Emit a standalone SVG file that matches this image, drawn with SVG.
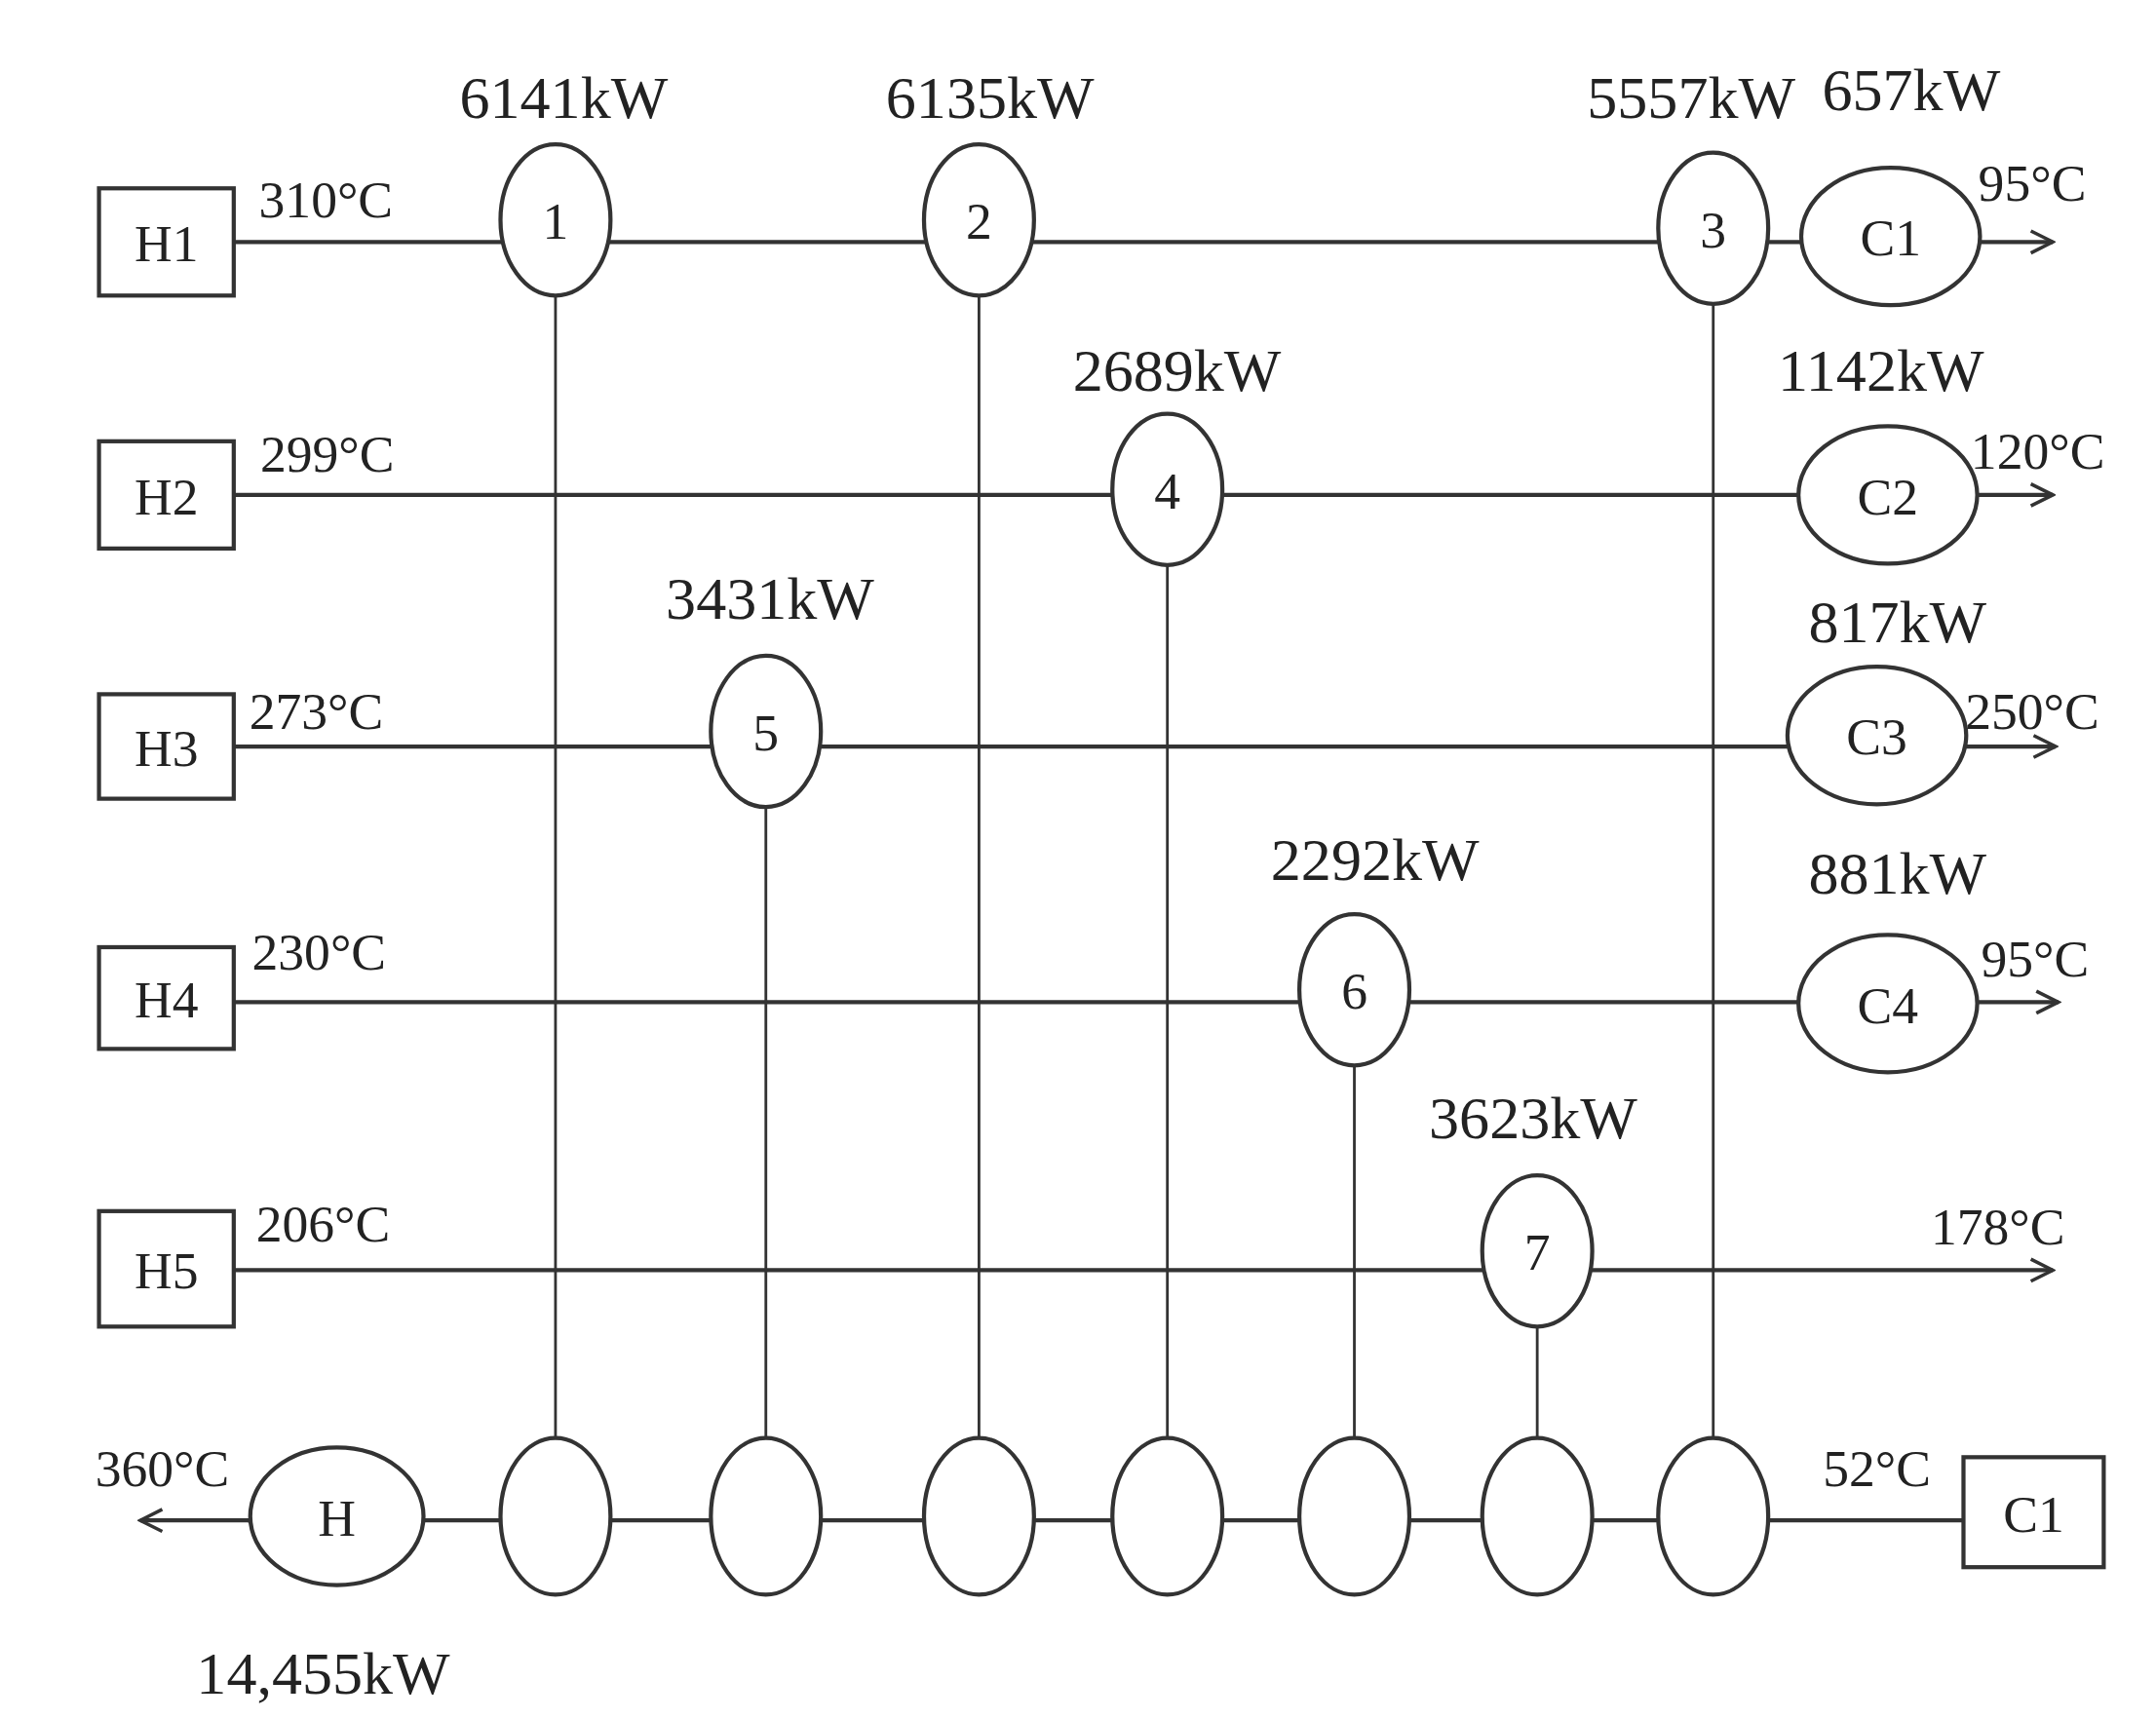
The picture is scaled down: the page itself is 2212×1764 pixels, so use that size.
<svg xmlns="http://www.w3.org/2000/svg" width="2212" height="1764" viewBox="0 0 2212 1764">
<defs>
<marker id="ar" viewBox="0 0 20 20" refX="18" refY="10" markerWidth="20" markerHeight="20" markerUnits="userSpaceOnUse" orient="auto"><path d="M2,2 L18,10 L2,18" fill="none" stroke="#333" stroke-width="2.5"/></marker>
</defs>
<style>
.s{stroke:#333;fill:none;stroke-width:3}
.v{stroke:#333;fill:none;stroke-width:2}
.n{stroke:#333;fill:#fff;stroke-width:3}
text{font-family:"Liberation Serif",serif;fill:#222;text-anchor:middle}
.k{font-size:44px}
.t{font-size:38px}
.l{font-size:38px}
</style>
<rect width="2212" height="1764" fill="#fff"/>
<g transform="scale(1.4107)">
<g id="connectors">
<line class="s" x1="170" y1="176" x2="1310" y2="176"/>
<line class="s" x1="1440" y1="176" x2="1493" y2="176" marker-end="url(#ar)"/>
<line class="s" x1="170" y1="360" x2="1308" y2="360"/>
<line class="s" x1="1438" y1="360" x2="1493" y2="360" marker-end="url(#ar)"/>
<line class="s" x1="170" y1="543" x2="1300" y2="543"/>
<line class="s" x1="1430" y1="543" x2="1495" y2="543" marker-end="url(#ar)"/>
<line class="s" x1="170" y1="729" x2="1308" y2="729"/>
<line class="s" x1="1438" y1="729" x2="1497" y2="729" marker-end="url(#ar)"/>
<line class="s" x1="170" y1="924" x2="1493" y2="924" marker-end="url(#ar)"/>
<line class="s" x1="1428" y1="1106" x2="180" y2="1106"/>
<line class="s" x1="182" y1="1106" x2="102" y2="1106" marker-end="url(#ar)"/>
<line class="v" x1="404" y1="176" x2="404" y2="1106"/>
<line class="v" x1="712" y1="176" x2="712" y2="1106"/>
<line class="v" x1="1246" y1="176" x2="1246" y2="1106"/>
<line class="v" x1="849" y1="360" x2="849" y2="1106"/>
<line class="v" x1="557" y1="543" x2="557" y2="1106"/>
<line class="v" x1="985" y1="729" x2="985" y2="1106"/>
<line class="v" x1="1118" y1="924" x2="1118" y2="1106"/>
</g>
<g id="H1"><rect class="n" x="72" y="137" width="98" height="78"/><text class="l" x="121" y="190">H1</text></g>
<g id="H2"><rect class="n" x="72" y="321" width="98" height="78"/><text class="l" x="121" y="374">H2</text></g>
<g id="H3"><rect class="n" x="72" y="505" width="98" height="76"/><text class="l" x="121" y="557">H3</text></g>
<g id="H4"><rect class="n" x="72" y="689" width="98" height="74"/><text class="l" x="121" y="740">H4</text></g>
<g id="H5"><rect class="n" x="72" y="881" width="98" height="84"/><text class="l" x="121" y="937">H5</text></g>
<g id="C1box"><rect class="n" x="1428" y="1060" width="102" height="80"/><text class="l" x="1479" y="1114">C1</text></g>
<g id="E1"><ellipse class="n" cx="404" cy="160" rx="40" ry="55"/><text class="l" x="404" y="174">1</text></g>
<g id="E2"><ellipse class="n" cx="712" cy="160" rx="40" ry="55"/><text class="l" x="712" y="174">2</text></g>
<g id="E3"><ellipse class="n" cx="1246" cy="166" rx="40" ry="55"/><text class="l" x="1246" y="180">3</text></g>
<g id="E4"><ellipse class="n" cx="849" cy="356" rx="40" ry="55"/><text class="l" x="849" y="370">4</text></g>
<g id="E5"><ellipse class="n" cx="557" cy="532" rx="40" ry="55"/><text class="l" x="557" y="546">5</text></g>
<g id="E6"><ellipse class="n" cx="985" cy="720" rx="40" ry="55"/><text class="l" x="985" y="734">6</text></g>
<g id="E7"><ellipse class="n" cx="1118" cy="910" rx="40" ry="55"/><text class="l" x="1118" y="924">7</text></g>
<g id="CU1"><ellipse class="n" cx="1375" cy="172" rx="65" ry="50"/><text class="l" x="1375" y="186">C1</text></g>
<g id="CU2"><ellipse class="n" cx="1373" cy="360" rx="65" ry="50"/><text class="l" x="1373" y="374">C2</text></g>
<g id="CU3"><ellipse class="n" cx="1365" cy="535" rx="65" ry="50"/><text class="l" x="1365" y="549">C3</text></g>
<g id="CU4"><ellipse class="n" cx="1373" cy="730" rx="65" ry="50"/><text class="l" x="1373" y="744">C4</text></g>
<g id="HU"><ellipse class="n" cx="245" cy="1103" rx="63" ry="50"/><text class="l" x="245" y="1117">H</text></g>
<g id="B1"><ellipse class="n" cx="404" cy="1103" rx="40" ry="57"/></g>
<g id="B2"><ellipse class="n" cx="557" cy="1103" rx="40" ry="57"/></g>
<g id="B3"><ellipse class="n" cx="712" cy="1103" rx="40" ry="57"/></g>
<g id="B4"><ellipse class="n" cx="849" cy="1103" rx="40" ry="57"/></g>
<g id="B5"><ellipse class="n" cx="985" cy="1103" rx="40" ry="57"/></g>
<g id="B6"><ellipse class="n" cx="1118" cy="1103" rx="40" ry="57"/></g>
<g id="B7"><ellipse class="n" cx="1246" cy="1103" rx="40" ry="57"/></g>
<g id="labels">
<text class="k" x="410" y="86">6141kW</text>
<text class="k" x="720" y="86">6135kW</text>
<text class="k" x="1230" y="86">5557kW</text>
<text class="k" x="1390" y="80">657kW</text>
<text class="k" x="856" y="284">2689kW</text>
<text class="k" x="1368" y="284">1142kW</text>
<text class="k" x="560" y="450">3431kW</text>
<text class="k" x="1380" y="467">817kW</text>
<text class="k" x="1000" y="640">2292kW</text>
<text class="k" x="1380" y="650">881kW</text>
<text class="k" x="1115" y="828">3623kW</text>
<text class="k" x="235" y="1232">14,455kW</text>
<text class="t" x="237" y="158">310°C</text>
<text class="t" x="238" y="343">299°C</text>
<text class="t" x="230" y="530">273°C</text>
<text class="t" x="232" y="705">230°C</text>
<text class="t" x="235" y="903">206°C</text>
<text class="t" x="1478" y="146">95°C</text>
<text class="t" x="1482" y="341">120°C</text>
<text class="t" x="1478" y="530">250°C</text>
<text class="t" x="1480" y="710">95°C</text>
<text class="t" x="1453" y="905">178°C</text>
<text class="t" x="118" y="1081">360°C</text>
<text class="t" x="1365" y="1081">52°C</text>
</g>
</g>
</svg>
